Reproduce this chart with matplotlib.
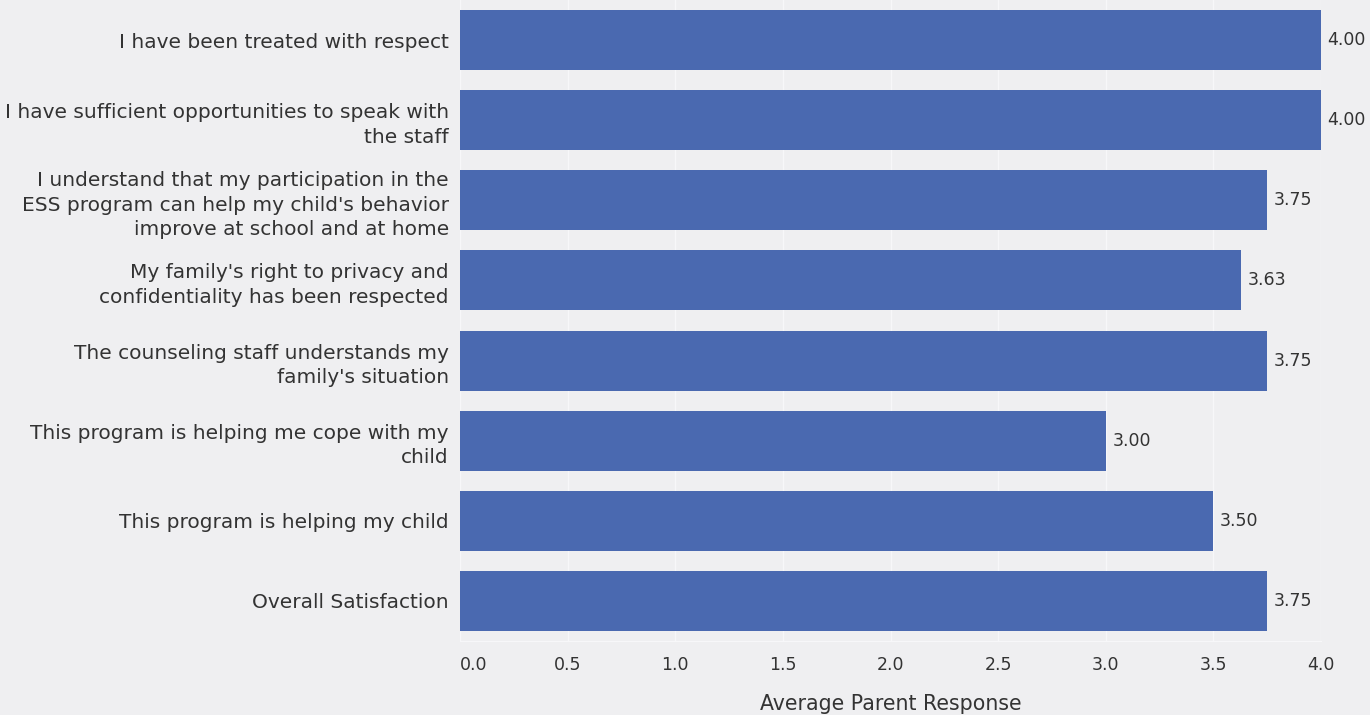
import matplotlib
matplotlib.use("Agg")
import matplotlib.pyplot as plt

plt.rcParams['font.family'] = ['DejaVu Sans']

# Survey items (top to bottom) and average responses
questions = [
    "I have been treated with respect",
    "I have sufficient opportunities to speak with\nthe staff",
    "I understand that my participation in the\nESS program can help my child's behavior\nimprove at school and at home",
    "My family's right to privacy and\nconfidentiality has been respected",
    "The counseling staff understands my\nfamily's situation",
    "This program is helping me cope with my\nchild",
    "This program is helping my child",
    "Overall Satisfaction",
]
scores = [4.00, 4.00, 3.75, 3.63, 3.75, 3.00, 3.50, 3.75]
x_ticks = [0.0, 0.5, 1.0, 1.5, 2.0, 2.5, 3.0, 3.5, 4.0]

bg = '#efeff1'
bar_color = '#4a69b0'
text_color = '#333333'

fig = plt.figure(figsize=(13.7, 7.15), dpi=100, facecolor=bg)
ax = fig.add_axes([0.3358, 0.1035, 0.6285, 0.8965])
ax.set_facecolor(bg)

y = range(len(questions))
bars = ax.barh(y, scores, height=0.75, color=bar_color, zorder=3)
ax.set_ylim(len(questions) - 0.5, -0.5)
ax.set_xlim(0, 4.0)

# value labels
for b, v in zip(bars, scores):
    ax.text(v + 0.03, b.get_y() + b.get_height() / 2, f'{v:.2f}',
            va='center', ha='left', fontsize=12.5, color=text_color, clip_on=False)

ax.set_yticks(list(y))
ax.set_yticklabels(questions, fontsize=14.5, color=text_color, linespacing=1.38)
ax.set_xticks(x_ticks)
labels = ax.set_xticklabels([f'{t:.1f}' for t in x_ticks], fontsize=12.5, color=text_color)
labels[0].set_ha('left')
ax.tick_params(axis='y', length=0, pad=8)
ax.tick_params(axis='x', length=0, pad=11)
ax.xaxis.grid(True, color='#f7f7f9', linewidth=1, zorder=0)

for s in ['top', 'right', 'left']:
    ax.spines[s].set_visible(False)
ax.spines['bottom'].set_color('#f7f7f9')

ax.set_xlabel('Average Parent Response', fontsize=14.8, color=text_color, labelpad=14)

fig.savefig('out.png', dpi=100, facecolor=bg)
